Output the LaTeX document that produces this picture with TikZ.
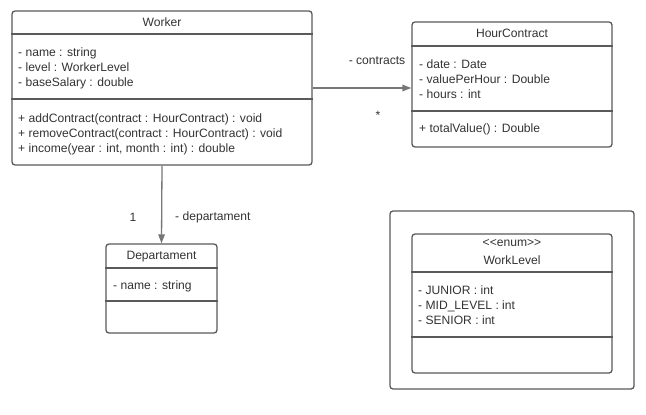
\documentclass[tikz,border=0pt]{standalone}
\usepackage{fontspec}
\setmainfont{Liberation Sans}
\usetikzlibrary{arrows.meta}
\definecolor{linec}{HTML}{5A5A5A}
\definecolor{arrc}{HTML}{777777}
\definecolor{txtc}{HTML}{333333}
\begin{document}
\begin{tikzpicture}[x=1pt,y=-1pt,
  font=\fontsize{12.1}{15}\selectfont,
  box/.style={draw=linec, line width=1.3pt, rounded corners=3pt, inner sep=0pt},
  divline/.style={draw=linec, line width=1.1pt},
  lbl/.style={text=txtc, inner sep=0pt},
  list/.style={text=txtc, inner sep=0pt, anchor=west, align=left},
  assoc/.style={draw=arrc, line width=1.3pt, -{Triangle[length=9pt,width=6.5pt]}}]
\useasboundingbox[fill=white] (0,0) rectangle (646,415);

% Worker
\node[box, minimum width=300pt, minimum height=154pt] (worker) at (162,88) {};
\draw[divline] (worker.west |- 0,34) -- (worker.east |- 0,34);
\draw[divline] (worker.west |- 0,99) -- (worker.east |- 0,99);
\node[lbl] (workerT) at (162,22) {Worker};
\node[list] (workerA) at (18,68.5) {- name : string\\- level : WorkerLevel\\- baseSalary : double};
\node[list] (workerM) at (18,134.5) {+ addContract(contract : HourContract) : void\\+ removeContract(contract : HourContract) : void\\+ income(year : int, month : int) : double};

% HourContract
\node[box, minimum width=200pt, minimum height=125pt] (hc) at (512,84.5) {};
\draw[divline] (hc.west |- 0,46) -- (hc.east |- 0,46);
\draw[divline] (hc.west |- 0,111) -- (hc.east |- 0,111);
\node[lbl] (hcT) at (512,33) {HourContract};
\node[list] (hcA) at (419,79) {- date : Date\\- valuePerHour : Double\\- hours : int};
\node[list] (hcM) at (419,129) {+ totalValue() : Double};

% Departament
\node[box, minimum width=111pt, minimum height=89pt] (dept) at (161.5,288.5) {};
\draw[divline] (dept.west |- 0,268) -- (dept.east |- 0,268);
\draw[divline] (dept.west |- 0,301) -- (dept.east |- 0,301);
\node[lbl] (deptT) at (161.5,257) {Departament};
\node[list] (deptA) at (113,286) {- name : string};

% Frame and WorkLevel
\node[box, minimum width=244pt, minimum height=178pt] (frame) at (512,300) {};
\node[box, minimum width=200pt, minimum height=139pt] (wl) at (512,303.5) {};
\draw[divline] (wl.west |- 0,272) -- (wl.east |- 0,272);
\draw[divline] (wl.west |- 0,337) -- (wl.east |- 0,337);
\node[lbl] (wlS) at (512,243.5) {<{}<enum>{}>};
\node[lbl] (wlT) at (512,260) {WorkLevel};
\node[list] (wlA) at (418,305) {- JUNIOR : int\\- MID\_LEVEL : int\\- SENIOR : int};

% Associations
\draw[assoc] (worker.east) -- (worker.east -| hc.west);
\node[lbl] (contractsL) at (377,61) {- contracts};
\node[lbl] (starL) at (378,115) {*};
\draw[assoc] (worker.south) -- (dept.north);
\node[lbl] (oneL) at (133,217) {1};
\node[lbl, anchor=west] (deptL) at (175,217) {- departament};
\end{tikzpicture}
\end{document}
